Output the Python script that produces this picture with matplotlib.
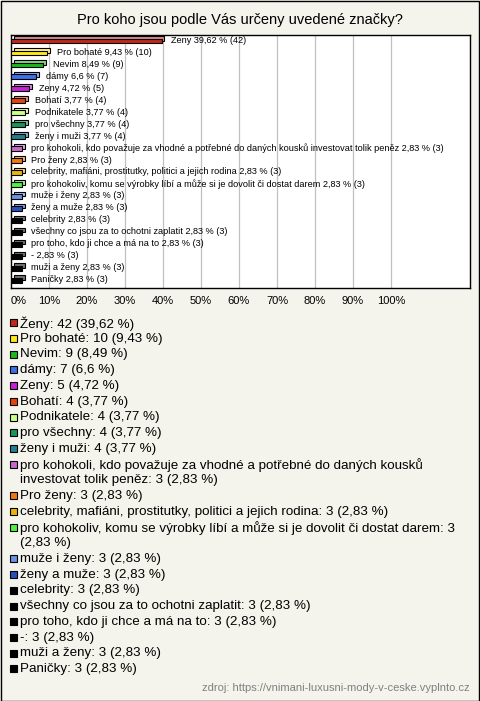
import matplotlib
matplotlib.use("Agg")
import matplotlib.pyplot as plt
from matplotlib.patches import Rectangle

plt.rcParams['font.family'] = ['Liberation Sans', 'DejaVu Sans']

# data
labels = [
    "Ženy", "Pro bohaté", "Nevim", "dámy", "Zeny", "Bohatí", "Podnikatele",
    "pro všechny", "ženy i muži",
    "pro kohokoli, kdo považuje za vhodné a potřebné do daných kousků investovat tolik peněz",
    "Pro ženy", "celebrity, mafiáni, prostitutky, politici a jejich rodina",
    "pro kohokoliv, komu se výrobky líbí a může si je dovolit či dostat darem",
    "muže i ženy", "ženy a muže", "celebrity", "všechny co jsou za to ochotni zaplatit",
    "pro toho, kdo ji chce a má na to", "-", "muži a ženy", "Paničky",
]
counts = [42, 10, 9, 7, 5, 4, 4, 4, 4, 3, 3, 3, 3, 3, 3, 3, 3, 3, 3, 3, 3]
percents = [39.62, 9.43, 8.49, 6.6, 4.72, 3.77, 3.77, 3.77, 3.77, 2.83, 2.83,
            2.83, 2.83, 2.83, 2.83, 2.83, 2.83, 2.83, 2.83, 2.83, 2.83]
colors = [
    "#c0281c", "#ffe81a", "#19b81c", "#3f6fe8", "#c81ed8", "#e8420c", "#ccff88",
    "#17955a", "#1f7f8f", "#c868cc", "#f07814", "#e8b40c", "#50f040",
    "#6894e0", "#2850bc", "#000000", "#000000", "#000000", "#000000",
    "#000000", "#000000",
]
xticks = [0, 10, 20, 30, 40, 50, 60, 70, 80, 90, 100]

W, H = 480, 701
BG = "#f4f3ec"


def fmt(p):
    return f"{p:g}".replace(".", ",")


def lighten(c, f=0.45):
    c = matplotlib.colors.to_rgb(c)
    return tuple(v + (1 - v) * f for v in c)


fig = plt.figure(figsize=(W / 100, H / 100), dpi=100)
fig.patch.set_facecolor(BG)

# outer border
fig.add_artist(Rectangle((0.5 / W, 0.5 / H), 1 - 1.5 / W, 1 - 1.5 / H,
                         transform=fig.transFigure, fill=False,
                         edgecolor="black", linewidth=1.0))

fig.text(240 / W, 1 - 20 / H, "Pro koho jsou podle Vás určeny uvedené značky?",
         ha="center", va="center", fontsize=10.5)

ax = fig.add_axes([11 / W, 1 - 288 / H, 459 / W, 253 / H])
ax.set_facecolor("white")
n = len(labels)
bh = 0.4
dx, dy = 0.75, 0.2
for i, (p, c) in enumerate(zip(percents, colors)):
    # 3d look: back face then front face
    ax.barh(i - dy, p, left=dx, height=bh, color=lighten(c), edgecolor="black",
            linewidth=0.8, zorder=3)
    ax.barh(i, p, height=bh, color=c, edgecolor="black", linewidth=0.8, zorder=4)
    txt = f"{labels[i]} {fmt(p)} % ({counts[i]})"
    ax.annotate(txt, (p, i - 0.05), xytext=(7, 0), textcoords="offset points",
                ha="left", va="center", fontsize=6.6, zorder=5)

ax.set_xlim(0, 120.8)
ax.set_ylim(n - 0.35, -0.5)
ax.set_yticks([])
ax.set_xticks(xticks)
ax.set_xticklabels([f"{t}%" for t in xticks], fontsize=8)
ax.tick_params(axis="x", length=0, pad=5.5)
ax.get_xticklabels()[0].set_horizontalalignment("left")
for t in xticks[1:]:
    ax.axvline(t, color="#c0c0c0", linewidth=0.9, zorder=1)
for s in ax.spines.values():
    s.set_linewidth(1.0)
    s.set_color("black")

# legend
line0 = 322.7
step = 15.74
line = 0
for i, lab in enumerate(labels):
    txt = f"{lab}: {counts[i]} ({fmt(percents[i])} %)"
    txt = txt.replace("kousků ", "kousků\n").replace("darem: 3 ", "darem: 3\n")
    y = line0 + line * step
    fig.add_artist(Rectangle((10 / W, 1 - (y + 3.5) / H), 7 / W, 7 / H,
                             transform=fig.transFigure, facecolor=colors[i],
                             edgecolor="black", linewidth=0.8))
    fig.text(20 / W, 1 - (y - 5.8) / H, txt, ha="left", va="top", fontsize=9.6,
             linespacing=1.12)
    line += txt.count("\n") + 1

fig.text(470 / W, 1 - 688 / H,
         "zdroj: https://vnimani-luxusni-mody-v-ceske.vyplnto.cz",
         ha="right", va="center", fontsize=8, color="#808080")

fig.savefig("out.png", dpi=100, facecolor=BG)
